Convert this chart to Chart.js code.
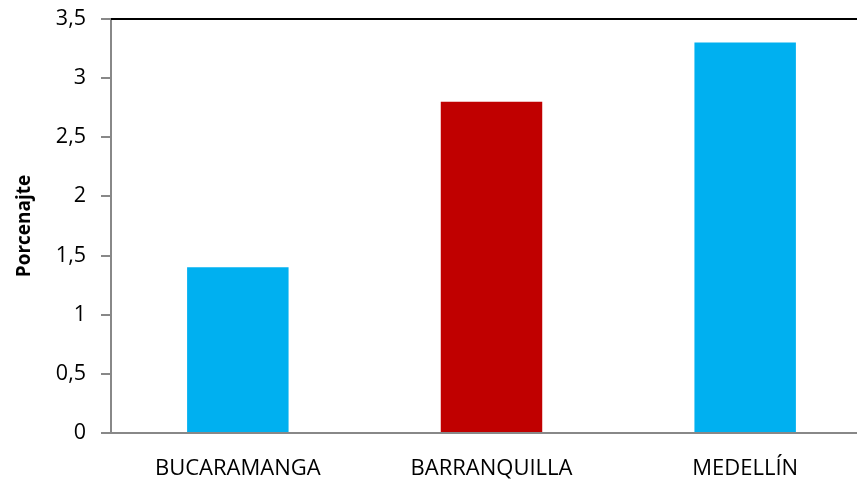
<!DOCTYPE html>
<html>
<head>
<meta charset="utf-8">
<script src="https://cdn.jsdelivr.net/npm/chart.js@4/dist/chart.umd.min.js"></script>
<style>
  html, body { margin: 0; padding: 0; background: #fff; overflow: hidden; }
  #wrap { position: relative; width: 872px; height: 491px; margin-top: -9px; }
</style>
</head>
<body>
<div id="wrap"><canvas id="myChart"></canvas></div>
<script>
'use strict';

// Data
var cities = ['BUCARAMANGA', 'BARRANQUILLA', 'MEDELLÍN'];
var percentages = [1.4, 2.8, 3.3];
var barColors = ['#00B0F0', '#C00000', '#00B0F0'];
var yTicks = [0, 0.5, 1, 1.5, 2, 2.5, 3, 3.5];

var font = '"Open Sans", "Liberation Sans", sans-serif';

// top border of the plot area
var topLine = {
  id: 'topLine',
  afterDraw: function (chart) {
    var a = chart.chartArea;
    var c = chart.ctx;
    c.save();
    c.strokeStyle = '#000';
    c.lineWidth = 2;
    c.beginPath();
    c.moveTo(a.left, a.top);
    c.lineTo(a.right + 5, a.top);
    c.stroke();
    c.restore();
  }
};

var ctx = document.getElementById('myChart').getContext('2d');
var chart = new Chart(ctx, {
  type: 'bar',
  data: {
    labels: cities,
    datasets: [{
      label: 'Porcenajte',
      data: percentages,
      backgroundColor: barColors,
      borderWidth: 0,
      categoryPercentage: 1,
      barPercentage: 0.4
    }]
  },
  options: {
    responsive: true,
    maintainAspectRatio: false,
    animation: false,
    layout: { padding: { top: 8, right: 0, left: 0, bottom: 0 } },
    plugins: {
      legend: { display: false },
      tooltip: { enabled: false }
    },
    scales: {
      x: {
        grid: { display: false, drawTicks: false },
        border: { display: true, color: '#888', width: 2 },
        ticks: { color: '#000', font: { family: font, size: 22 }, padding: 23, maxRotation: 0 },
        afterFit: function (s) { s.height = 49; }
      },
      y: {
        min: 0,
        max: 3.5,
        afterBuildTicks: function (s) {
          s.ticks = yTicks.map(function (v) { return { value: v }; });
        },
        grid: { drawOnChartArea: false, drawTicks: true, tickLength: 10, color: '#888', lineWidth: 2 },
        border: { display: true, color: '#888', width: 2 },
        ticks: {
          color: '#000',
          font: { family: font, size: 21.5 },
          padding: 15,
          callback: function (v) { return String(v).replace('.', ','); }
        },
        title: {
          display: true,
          text: 'Porcenajte',
          color: '#000',
          font: { family: font, size: 19, weight: 'bold' },
          padding: { top: 13, bottom: 0 }
        },
        afterFit: function (s) { s.width = 111; }
      }
    }
  },
  plugins: [topLine]
});
</script>
</body>
</html>
